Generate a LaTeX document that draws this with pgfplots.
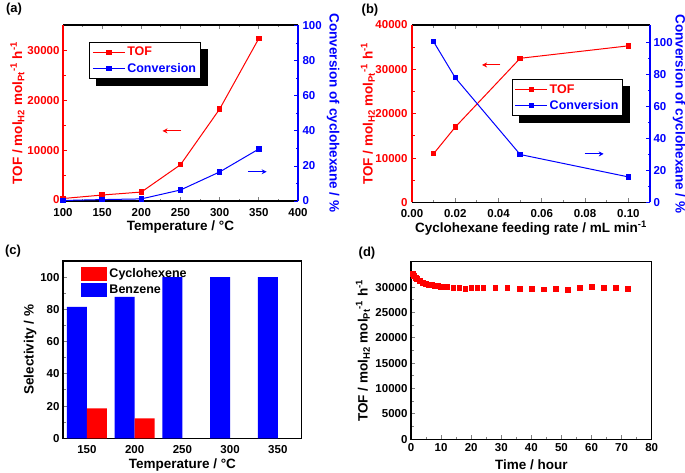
\documentclass[border=0pt]{standalone}
\usepackage{pgfplots}
\pgfplotsset{compat=1.18}
\usepackage{fontspec}
\setmainfont{Liberation Sans}
\usetikzlibrary{arrows.meta}

\pgfplotsset{
  mystyle/.style={
    scale only axis,
    anchor=south west,
    tick align=inside,
    major tick length=4pt,
    minor tick length=2.5pt,
    axis line style={line width=1.1pt},
    every tick/.append style={line width=0.9pt},
    scaled y ticks=false, scaled x ticks=false,
    /pgf/number format/assume math mode=true,
    /pgf/number format/1000 sep={},
    tick label style={font=\fontsize{11.5}{13}\selectfont\bfseries},
    label style={font=\fontsize{13.5}{15}\selectfont\bfseries},
    legend style={font=\fontsize{12.5}{14}\selectfont\bfseries},
  },
  shadowlegend/.style={
    legend style={anchor=north west, draw=black, line width=1pt, fill=white,
      inner sep=2.5pt, row sep=1.5pt},
    legend cell align=left,
    legend image code/.code={\draw[mark repeat=2,mark phase=2,##1] plot coordinates {(0pt,0pt) (16pt,0pt) (32pt,0pt)};},
  },
  rectlegend/.style={legend image code/.code={\fill[##1] (0pt,-6.7pt) rectangle (26pt,6.7pt);}},
}
\newcommand{\toflabel}{TOF / mol\textsubscript{H2} mol\textsubscript{Pt}\textsuperscript{-1} h\textsuperscript{-1}}
\newcommand{\legshadow}[1]{%
  \fill[black] ([yshift=-7pt]#1.north east) rectangle ([xshift=7pt,yshift=-7pt]#1.south east);
  \fill[black] ([xshift=7pt,yshift=-7pt]#1.south west) rectangle (#1.south east);}

\begin{document}
\begin{tikzpicture}[x=1pt,y=1pt]

% ---------------- (a)
\begin{axis}[mystyle, at={(63pt,-201pt)}, width=235pt, height=176pt,
  xmin=100, xmax=400, ymin=-200, ymax=35200,
  axis x line*=box, axis y line*=left,
  xtick={100,150,...,400}, minor x tick num=1,
  xticklabel style={yshift=-3.5pt},
  ytick={0,10000,20000,30000}, minor y tick num=1,
  y axis line style={red}, ytick style={red}, yticklabel style={red},
  xlabel={Temperature / °C},
  xlabel style={at={(axis description cs:0.5,-0.148)}, anchor=center},
  ylabel={\toflabel},
  ylabel style={red, at={(axis description cs:-0.194,0.5)}, anchor=center}]
\addplot[red, line width=1pt, mark=square*, mark size=2.2pt] coordinates {
 (100,300) (150,1000) (200,1600) (250,7100) (300,18300) (350,32500)};
\draw[red, line width=1pt, -{Stealth[length=5pt,width=5pt]}] (axis cs:251,13900) -- (axis cs:227,13900);
\end{axis}
\begin{axis}[mystyle, shadowlegend, at={(63pt,-201pt)}, width=235pt, height=176pt,
  xmin=100, xmax=400, ymin=0, ymax=100.5,
  axis x line=none, axis y line*=right,
  ytick={0,20,...,100}, minor y tick num=1,
  y axis line style={blue}, ytick style={blue}, yticklabel style={blue, xshift=1pt},
  ylabel={Conversion of cyclohexane / \%},
  ylabel style={blue, at={(axis description cs:1.149,0.5)}, anchor=center, rotate=180},
  legend style={at={(0.112,0.902)}, name=legA}]
\addlegendimage{red, line width=1pt, mark=square*, mark size=2.2pt}
\addlegendentry{\textcolor{red}{TOF}}
\addplot[blue, line width=1pt, mark=square*, mark size=2.2pt] coordinates {
 (100,0.3) (150,0.8) (200,1.2) (250,6.3) (300,16.6) (350,29.7)};
\addlegendentry{\textcolor{blue}{Conversion}}
\draw[blue, line width=1pt, -{Stealth[length=5pt,width=5pt]}] (axis cs:336,16.7) -- (axis cs:360,16.7);
\end{axis}
\legshadow{legA}

% ---------------- (b)
\begin{axis}[mystyle, at={(412pt,-202.5pt)}, width=238pt, height=177.5pt,
  xmin=0, xmax=0.11, ymin=0, ymax=40000,
  axis x line*=box, axis y line*=left,
  xtick={0,0.02,...,0.1}, minor x tick num=1,
  xticklabel style={yshift=-3.5pt, /pgf/number format/.cd, fixed, fixed zerofill, precision=2},
  ytick={0,10000,...,40000}, minor y tick num=1,
  y axis line style={red}, ytick style={red}, yticklabel style={red, xshift=-1pt},
  xlabel={Cyclohexane feeding rate / mL min\textsuperscript{-1}},
  xlabel style={at={(axis description cs:0.5,-0.144)}, anchor=center},
  ylabel={\toflabel},
  ylabel style={red, at={(axis description cs:-0.185,0.5)}, anchor=center}]
\addplot[red, line width=1pt, mark=square*, mark size=2.2pt] coordinates {
 (0.01,11000) (0.02,17000) (0.05,32500) (0.10,35300)};
\draw[red, line width=1pt, -{Stealth[length=5pt,width=5pt]}] (axis cs:0.0409,31000) -- (axis cs:0.0324,31000);
\end{axis}
\begin{axis}[mystyle, shadowlegend, at={(412pt,-202.5pt)}, width=238pt, height=177.5pt,
  xmin=0, xmax=0.11, ymin=0, ymax=111,
  axis x line=none, axis y line*=right,
  ytick={0,20,...,100}, minor y tick num=1,
  y axis line style={blue}, ytick style={blue}, yticklabel style={blue},
  ylabel={Conversion of cyclohexane / \%},
  ylabel style={blue, at={(axis description cs:1.122,0.5)}, anchor=center, rotate=180},
  legend style={at={(0.419,0.694)}, name=legB}]
\addlegendimage{red, line width=1pt, mark=square*, mark size=2.2pt}
\addlegendentry{\textcolor{red}{TOF}}
\addplot[blue, line width=1pt, mark=square*, mark size=2.2pt] coordinates {
 (0.01,100.5) (0.02,78) (0.05,30) (0.10,16)};
\addlegendentry{\textcolor{blue}{Conversion}}
\draw[blue, line width=1pt, -{Stealth[length=5pt,width=5pt]}] (axis cs:0.0798,30.4) -- (axis cs:0.0886,30.4);
\end{axis}
\legshadow{legB}

% ---------------- (c)
\begin{axis}[mystyle, at={(63pt,-438.3pt)}, width=238.7pt, height=177.3pt,
  ybar=0pt, bar width=20pt,
  xmin=125, xmax=375, ymin=0, ymax=110,
  xtick={150,200,250,300,350}, xtick style={draw=none},
  ytick={0,20,...,100}, minor y tick num=1, ytick pos=left,
  xlabel={Temperature / °C},
  xlabel style={at={(axis description cs:0.5,-0.151)}, anchor=center},
  ylabel={Selectivity / \%},
  ylabel style={at={(axis description cs:-0.138,0.5)}, anchor=center},
  legend style={at={(0.064,0.981)}, anchor=north west, draw=none, fill=none, row sep=2pt},
  legend cell align=left, reverse legend]
\addplot[fill=blue, draw=none, rectlegend] coordinates {
 (150,81.5) (200,87.7) (250,100) (300,100) (350,100)};
\addlegendentry{Benzene}
\addplot[fill=red, draw=none, rectlegend] coordinates {
 (150,18.5) (200,12.3)};
\addlegendentry{Cyclohexene}
\end{axis}

% ---------------- (d)
\begin{axis}[mystyle, at={(411pt,-439.3pt)}, width=240.7pt, height=177.6pt,
  xmin=0, xmax=80, ymin=0, ymax=35000,
  xtick={0,10,...,80}, minor x tick num=1,
  ytick={0,5000,...,30000}, minor y tick num=1,
  xtick pos=left, ytick pos=left,
  xticklabel style={yshift=-1pt},
  xlabel={Time / hour},
  xlabel style={at={(axis description cs:0.5,-0.145)}, anchor=center},
  ylabel={\toflabel},
  ylabel style={at={(axis description cs:-0.2,0.5)}, anchor=center}]
\addplot[only marks, red, mark=square*, mark size=2.4pt] coordinates {
 (0.5,32700) (1,32300) (1.5,31900) (2,31600) (3,31200) (4,30900) (5,30700)
 (6,30500) (7,30400) (8,30300) (9,30200) (10,30150) (11,30100) (12,30000)
 (14,29950) (16,29900) (18,29700) (20,29850) (22,29900) (24,29950)
 (28,29950) (32,29850) (36,29700) (40,29750) (44,29600) (48,29700)
 (52,29500) (56,29950) (60,30000) (64,29850) (68,29850) (72,29700)};
\end{axis}

% panel labels
\node[font=\fontsize{13}{15}\selectfont\bfseries] at (14pt,-9pt) {(a)};
\node[font=\fontsize{13}{15}\selectfont\bfseries] at (370pt,-10pt) {(b)};
\node[font=\fontsize{13}{15}\selectfont\bfseries] at (13pt,-251pt) {(c)};
\node[font=\fontsize{13}{15}\selectfont\bfseries] at (367pt,-253pt) {(d)};

\pgfresetboundingbox
\useasboundingbox (0pt,0pt) rectangle (685pt,-473pt);
\end{tikzpicture}
\end{document}
